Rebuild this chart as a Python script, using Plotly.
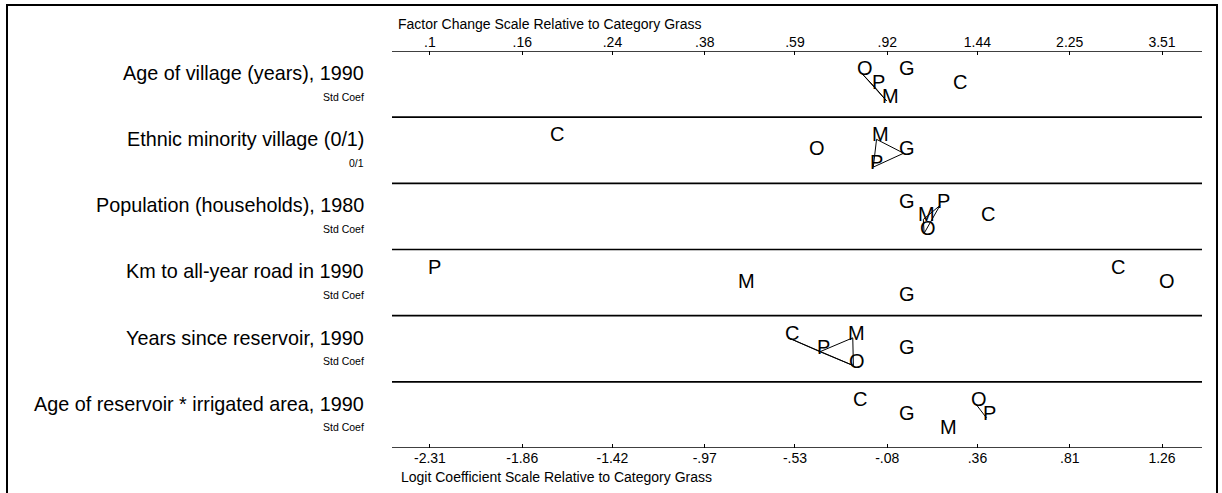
import plotly.graph_objects as go

# ---------------- data ----------------
variables = [
    "Age of village (years), 1990",
    "Ethnic minority village (0/1)",
    "Population (households), 1980",
    "Km to all-year road in 1990",
    "Years since reservoir, 1990",
    "Age of reservoir * irrigated area, 1990",
]
units = ["Std Coef", "0/1", "Std Coef", "Std Coef", "Std Coef", "Std Coef"]

categories = ["G", "C", "M", "O", "P"]
# logit coefficients relative to category Grass (G)
coef_G = [0.0, 0.0, 0.0, 0.0, 0.0, 0.0]
coef_C = [0.258, -1.706, 0.396, 1.029, -0.562, -0.229]
coef_M = [-0.083, -0.132, 0.096, -0.781, -0.248, 0.201]
coef_O = [-0.205, -0.440, 0.100, 1.265, -0.245, 0.352]
coef_P = [-0.141, -0.148, 0.177, -2.307, -0.408, 0.404]

# vertical stagger level of each letter within its row (0 = top)
level_G = [0, 1, 0, 2, 1, 1]
level_C = [1, 0, 1, 0, 0, 0]
level_M = [2, 0, 1, 1, 0, 2]
level_O = [0, 1, 2, 1, 2, 0]
level_P = [1, 2, 0, 0, 1, 1]

# pairs of categories that are not significantly different (connected)
links = [
    [("O", "P"), ("P", "M"), ("O", "M")],
    [("M", "G"), ("M", "P"), ("P", "G")],
    [("P", "M"), ("P", "O"), ("M", "O")],
    [],
    [("C", "P"), ("C", "O"), ("P", "M"), ("P", "O"), ("M", "O")],
    [("O", "P")],
]

logit_ticks = [-2.31, -1.86, -1.42, -0.97, -0.53, -0.08, 0.36, 0.81, 1.26]
logit_labels = ["-2.31", "-1.86", "-1.42", "-.97", "-.53", "-.08", ".36", ".81", "1.26"]
factor_labels = [".1", ".16", ".24", ".38", ".59", ".92", "1.44", "2.25", "3.51"]

top_title = "Factor Change Scale Relative to Category Grass"
bottom_title = "Logit Coefficient Scale Relative to Category Grass"

# ---------------- layout constants ----------------
W, H = 1222, 493
L, T = 392, 51
PW, PH = 810, 397
R = W - L - PW
B = H - T - PH
FONT = "Liberation Sans, Arial, Helvetica, sans-serif"
level_frac = [0.335, 0.545, 0.755]


def px_x(px):
    return (px - L) / PW


def px_y(py):
    return (T + PH - py) / PH


coef = {"G": coef_G, "C": coef_C, "M": coef_M, "O": coef_O, "P": coef_P}
level = {"G": level_G, "C": level_C, "M": level_M, "O": level_O, "P": level_P}
nrow = len(variables)

fig = go.Figure()

# connecting lines
for i in range(nrow):
    for a, b in links[i]:
        fig.add_trace(go.Scatter(
            x=[coef[a][i], coef[b][i]],
            y=[i + level_frac[level[a][i]], i + level_frac[level[b][i]]],
            mode="lines", line=dict(color="black", width=1),
            hoverinfo="skip", showlegend=False))

# invisible trace for the top axis
fig.add_trace(go.Scatter(x=[logit_ticks[0], logit_ticks[-1]], y=[0, 0], xaxis="x2",
                         mode="markers", marker=dict(opacity=0), showlegend=False,
                         hoverinfo="skip"))

annotations = []
# letters
for i in range(nrow):
    for c in categories:
        annotations.append(dict(
            x=coef[c][i], y=i + level_frac[level[c][i]], xref="x", yref="y",
            text=c, showarrow=False, xshift=3.5, yshift=5,
            font=dict(family=FONT, size=20, color="black")))

# row labels
for i in range(nrow):
    annotations.append(dict(
        x=px_x(366), y=i + 0.33, xref="paper", yref="y", text=variables[i],
        showarrow=False, xanchor="right", yanchor="middle",
        font=dict(family=FONT, size=19.8, color="black")))
    annotations.append(dict(
        x=px_x(366), y=i + 0.69, xref="paper", yref="y", text=units[i],
        showarrow=False, xanchor="right", yanchor="middle",
        font=dict(family=FONT, size=10.5, color="black")))

# axis titles
annotations.append(dict(x=px_x(396), y=px_y(24), xref="paper", yref="paper",
                        text=top_title, showarrow=False, xanchor="left", yanchor="middle",
                        font=dict(family=FONT, size=14, color="black")))
annotations.append(dict(x=px_x(399), y=px_y(477), xref="paper", yref="paper",
                        text=bottom_title, showarrow=False, xanchor="left", yanchor="middle",
                        font=dict(family=FONT, size=14, color="black")))

shapes = []
for k in range(nrow + 1):
    shapes.append(dict(type="line", xref="x domain", yref="y", x0=0, x1=1, y0=k, y1=k,
                       line=dict(color="black", width=1.6)))
# outer frame
shapes.append(dict(type="rect", xref="paper", yref="paper",
                   x0=px_x(7), x1=px_x(1217), y0=px_y(500), y1=px_y(5),
                   line=dict(color="black", width=2)))

xr = [-2.495, 1.455]
fig.update_layout(
    width=W, height=H, autosize=False,
    margin=dict(l=L, r=R, t=T, b=B, pad=0),
    paper_bgcolor="white", plot_bgcolor="white",
    showlegend=False,
    xaxis=dict(range=xr, tickvals=logit_ticks, ticktext=logit_labels,
               ticks="inside", ticklen=4, tickwidth=1, tickcolor="black",
               showgrid=False, zeroline=False, showline=False,
               tickfont=dict(family=FONT, size=14, color="black"), fixedrange=True),
    xaxis2=dict(range=xr, overlaying="x", side="top", matches="x",
                tickvals=logit_ticks, ticktext=factor_labels,
                ticks="inside", ticklen=4, tickwidth=1, tickcolor="black",
                showgrid=False, zeroline=False, showline=False,
                tickfont=dict(family=FONT, size=14, color="black")),
    yaxis=dict(range=[nrow, 0], visible=False, showgrid=False, zeroline=False,
               fixedrange=True),
    annotations=annotations,
    shapes=shapes,
)

fig.write_html("out.html", config={"displayModeBar": False},
               post_script="document.body.style.margin='0';document.body.style.overflow='hidden';")
